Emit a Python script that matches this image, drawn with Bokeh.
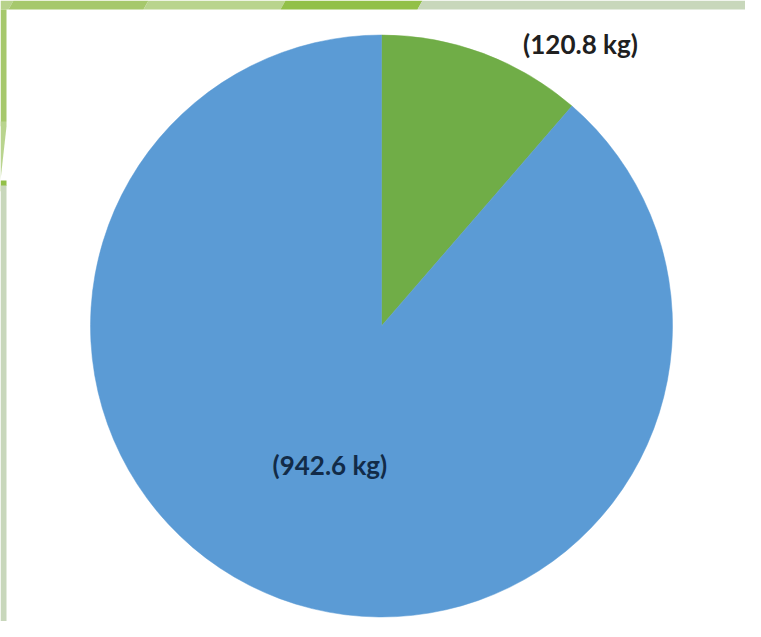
import math
from bokeh.plotting import figure
from bokeh.models import Range1d, ColumnDataSource
from bokeh.core.properties import value
from bokeh.embed import file_html
from bokeh.resources import INLINE

# ---- data ----
categories = ["Green share", "Blue share"]
weights_kg = [120.8, 942.6]
labels = ["(120.8 kg)", "(942.6 kg)"]
colors = ["#70ad47", "#5b9bd5"]
label_colors = ["#202020", "#122b48"]

# ---- layout (pixel system: data x = picture x, data y = 637 - picture y) ----
W, H = 745, 621
p = figure(width=W, height=H, output_backend="svg", toolbar_location=None,
           x_range=Range1d(0, W), y_range=Range1d(637 - H, 637),
           min_border=0, tools="")
p.axis.visible = False
p.grid.visible = False
p.outline_line_color = None
p.background_fill_color = "white"
p.border_fill_color = "white"

def Y(py):
    return 637 - py

# decorative frame (top band and left band)
top_segments = [
    (0, 13, 8, 0, "#b7d28b"),
    (13, 148, 143, 8, "#a6c86c"),
    (148, 285, 280, 143, "#b9d48e"),
    (285, 422, 417, 280, "#92c048"),
    (422, 761, 761, 417, "#c8d7bb"),
]
xs_t, ys_t, cs_t = [], [], []
for (x0t, x1t, x1b, x0b, c) in top_segments:
    xs_t.append([x0t, x1t, x1b, x0b])
    ys_t.append([Y(0), Y(0), Y(9), Y(9)])
    cs_t.append(c)
p.patches(xs=xs_t, ys=ys_t, fill_color=cs_t, line_color=None)

left_segments = [
    (9, 121, 126, "#a6c86c"),
    (121, 126, 180, "#b9d48e"),
    (180, 185, 191, "#92c048"),
]
xs_l, ys_l, cs_l = [], [], []
for (y0, y1a, y1b, c) in left_segments:
    xs_l.append([0, 6, 6, 0])
    ys_l.append([Y(y0), Y(y0), Y(y1a), Y(y1b)])
    cs_l.append(c)
xs_l.append([0, 6, 6, 0])
ys_l.append([Y(185), Y(185), Y(637), Y(637)])
cs_l.append("#c8d7bb")
p.patches(xs=xs_l, ys=ys_l, fill_color=cs_l, line_color=None)

# ---- pie ----
cx, cy, R = 381, Y(325.5), 291
total = sum(weights_kg)
starts, ends, mids = [], [], []
cum = 0.0
for w in weights_kg:
    a0 = math.pi / 2 - 2 * math.pi * (cum + w) / total
    a1 = math.pi / 2 - 2 * math.pi * cum / total
    starts.append(a0)
    ends.append(a1)
    mids.append((a0 + a1) / 2)
    cum += w

src = ColumnDataSource(dict(cat=categories, w=weights_kg, start=starts, end=ends, color=colors))
p.wedge(x=cx, y=cy, radius=R, start_angle="start", end_angle="end",
        fill_color="color", line_color="color", line_width=0.5, source=src)

# label placement (polar: angle in degrees, radius factor)
label_pos = [(54.8, 1.186), (None, 0.508)]
lx, ly = [], []
for i, (ang, rf) in enumerate(label_pos):
    a = math.radians(ang) if ang is not None else mids[i]
    lx.append(cx + rf * R * math.cos(a))
    ly.append(cy + rf * R * math.sin(a))

p.text(x=lx, y=ly, text=labels, text_color=label_colors,
       text_font=value("Lato"), text_font_style="bold", text_font_size="26px",
       text_align="center", text_baseline="middle")

open("out.html", "w").write(file_html(p, INLINE))
